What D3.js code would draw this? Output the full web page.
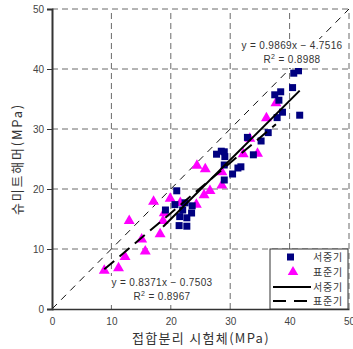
<!DOCTYPE html>
<html><head><meta charset="utf-8">
<script src="https://cdn.jsdelivr.net/npm/d3@7"></script>
<style>
html,body{margin:0;padding:0;background:#fff;}
svg{display:block;font-family:"Liberation Sans","Noto Sans CJK KR",sans-serif;}
</style></head>
<body><svg id="c" width="353" height="349"></svg>
<script>
// 서중기 (navy squares)
const seoX = [40.7,41.5,40.5,38.5,37.5,38.2,41.7,38.8,37.9,36.4,35.2,32.9,33.9,29.0,27.7,28.5,29.1,29.0,31.8,31.3,30.4,29.0,21.0,20.7,22.4,23.6,19.1,22.0,21.5,22.7,23.5,21.4,22.7];
const seoY = [39.3,39.7,36.9,36.2,35.7,34.8,32.3,32.8,31.9,29.4,28.0,28.6,25.7,26.2,25.8,26.3,25.4,24.0,23.7,23.5,22.5,21.5,19.7,17.4,17.7,17.2,16.5,16.5,15.4,15.2,16.0,13.9,13.8];
// 표준기 (magenta triangles)
const pyoX = [37.7,36.1,33.3,32.2,34.6,24.4,25.8,28.6,28.6,26.6,25.6,24.3,21.6,19.9,17.1,18.9,18.7,18.2,13.0,15.1,15.7,12.3,11.2,8.8];
const pyoY = [34.3,31.8,28.4,25.8,25.9,23.9,23.3,22.8,20.6,19.7,19.0,17.4,17.7,18.4,17.9,16.0,14.7,12.5,14.7,11.6,9.6,8.7,6.8,6.4];
// trend lines: [slope, intercept], x-range
const seoFit = [0.9869, -4.7516], seoFitRange = [18.7, 41.7];
const pyoFit = [0.8371, -0.7503], pyoFitRange = [8.8, 37.7];
const ticks = [0,10,20,30,40,50];
const seoEq = ["y = 0.9869x − 4.7516", "0.8988"];
const pyoEq = ["y = 0.8371x − 0.7503", "0.8967"];
const legendLabels = ["서중기","표준기","서중기","표준기"];
const xTitle = "접합분리 시험체(MPa)";
const yTitle = "슈미트해머(MPa)";

const svg = d3.select("#c");
const x = d3.scaleLinear().domain([0,50]).range([52,349]);
const y = d3.scaleLinear().domain([0,50]).range([309,9]);

// grid
const g = svg.append("g");
ticks.filter(t=>t>0).forEach(t=>{
  g.append("line").attr("x1",x(0)).attr("x2",x(50)).attr("y1",y(t)).attr("y2",y(t))
   .attr("stroke","#6a6a6a").attr("stroke-width",1).attr("stroke-dasharray","6,4");
  g.append("line").attr("y1",y(0)).attr("y2",y(50)).attr("x1",x(t)).attr("x2",x(t))
   .attr("stroke","#6a6a6a").attr("stroke-width",1).attr("stroke-dasharray","6,4");
});

// 1:1 line
svg.append("line").attr("x1",x(0)).attr("y1",y(0)).attr("x2",x(50)).attr("y2",y(50))
  .attr("stroke","#111").attr("stroke-width",1).attr("stroke-dasharray","7,6");

// axes
const yAxis = d3.axisLeft(y).tickValues(ticks).tickSize(5).tickPadding(3);
const ya = svg.append("g").attr("transform",`translate(${x(0)},0)`).call(yAxis);
ya.select(".domain").attr("stroke","#333").attr("stroke-width",2);
ya.selectAll(".tick line").attr("stroke","#333");
ya.selectAll("text").attr("font-size",10).attr("fill","#444").attr("font-family","Liberation Sans");
const xAxis = d3.axisBottom(x).tickValues(ticks).tickSize(0).tickPadding(9);
const xa = svg.append("g").attr("transform",`translate(0,${y(0)})`).call(xAxis);
xa.select(".domain").attr("stroke","#333").attr("stroke-width",1.5);
xa.selectAll("text").attr("font-size",10).attr("fill","#444").attr("font-family","Liberation Sans");

// points
const seo = seoX.map((v,i)=>[v,seoY[i]]);
const pyo = pyoX.map((v,i)=>[v,pyoY[i]]);
svg.append("g").selectAll("path").data(pyo).join("path")
  .attr("d",d3.symbol(d3.symbolTriangle,52)())
  .attr("transform",d=>`translate(${x(d[0])},${y(d[1])})`)
  .attr("fill","#ff00ff");
svg.append("g").selectAll("rect").data(seo).join("rect")
  .attr("x",d=>x(d[0])-3.5).attr("y",d=>y(d[1])-3.5).attr("width",7).attr("height",7)
  .attr("fill","#000080");

// trend lines
function fitLine(fit, range, dash){
  const l = svg.append("line")
    .attr("x1",x(range[0])).attr("y1",y(fit[0]*range[0]+fit[1]))
    .attr("x2",x(range[1])).attr("y2",y(fit[0]*range[1]+fit[1]))
    .attr("stroke","#000").attr("stroke-width",2);
  if(dash) l.attr("stroke-dasharray",dash);
}
fitLine(seoFit, seoFitRange, null);
fitLine(pyoFit, pyoFitRange, "13,7");

// equations
function eq(lines, cx, cy, bx, bw){
  svg.append("rect").attr("x",bx).attr("y",cy-10).attr("width",bw).attr("height",29).attr("fill","#fff");
  svg.append("text").attr("x",cx).attr("y",cy).attr("text-anchor","middle")
    .attr("font-size",10).attr("letter-spacing",0.35).attr("fill","#333").text(lines[0]);
  const t = svg.append("text").attr("x",cx).attr("y",cy+14).attr("text-anchor","middle")
    .attr("font-size",10).attr("letter-spacing",0.35).attr("fill","#333");
  t.append("tspan").text("R");
  t.append("tspan").attr("dy",-4).attr("font-size",7).text("2");
  t.append("tspan").attr("dy",4).text(" = "+lines[1]);
}
eq(seoEq, 292, 49, 236, 112);
eq(pyoEq, 162, 286, 106, 112);

// legend
const lg = svg.append("g");
lg.append("rect").attr("x",270).attr("y",249).attr("width",78).attr("height",60)
  .attr("fill","#fff").attr("stroke","#333").attr("stroke-width",1);
const rowsY = [257,272,287,301];
lg.append("rect").attr("x",287).attr("y",rowsY[0]-3.5).attr("width",7).attr("height",7).attr("fill","#000080");
lg.append("path").attr("d",d3.symbol(d3.symbolTriangle,48)()).attr("transform",`translate(293,${rowsY[1]})`).attr("fill","#ff00ff");
lg.append("line").attr("x1",273).attr("x2",311).attr("y1",rowsY[2]).attr("y2",rowsY[2]).attr("stroke","#000").attr("stroke-width",2);
lg.append("line").attr("x1",273).attr("x2",311).attr("y1",rowsY[3]).attr("y2",rowsY[3]).attr("stroke","#000").attr("stroke-width",2).attr("stroke-dasharray","13,8");
legendLabels.forEach((s,i)=>{
  lg.append("text").attr("x",343).attr("y",rowsY[i]+3.5).attr("text-anchor","end")
    .attr("font-size",10).attr("letter-spacing",0.8).attr("fill","#333").attr("font-family","Noto Sans CJK KR").text(s);
});

// titles
svg.append("text").attr("x",201).attr("y",343).attr("text-anchor","middle")
  .attr("font-size",13).attr("letter-spacing",1.3).attr("fill","#333").attr("font-family","Noto Sans CJK KR").text(xTitle);
svg.append("text").attr("transform","translate(22,159) rotate(-90)").attr("text-anchor","middle")
  .attr("font-size",13).attr("letter-spacing",1.8).attr("fill","#333").attr("font-family","Noto Sans CJK KR").text(yTitle);
</script></body></html>
